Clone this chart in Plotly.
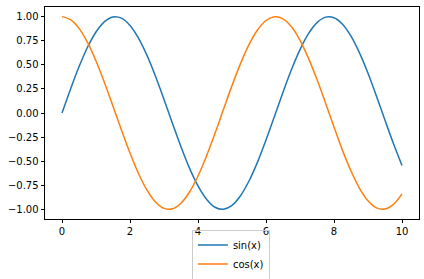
import plotly.graph_objects as go

x_vals = [0.0, 0.25, 0.5, 0.75, 1.0, 1.25, 1.5, 1.75, 2.0, 2.25, 2.5, 2.75, 3.0, 3.25, 3.5, 3.75,
          4.0, 4.25, 4.5, 4.75, 5.0, 5.25, 5.5, 5.75, 6.0, 6.25, 6.5, 6.75, 7.0, 7.25, 7.5, 7.75,
          8.0, 8.25, 8.5, 8.75, 9.0, 9.25, 9.5, 9.75, 10.0]
sin_vals = [0.000, 0.247, 0.479, 0.682, 0.841, 0.949, 0.997, 0.984, 0.909, 0.778, 0.598, 0.382,
            0.141, -0.108, -0.351, -0.572, -0.757, -0.895, -0.978, -0.999, -0.959, -0.859,
            -0.706, -0.510, -0.279, -0.033, 0.215, 0.451, 0.657, 0.823, 0.938, 0.995, 0.989,
            0.922, 0.798, 0.624, 0.412, 0.174, -0.075, -0.319, -0.544]
cos_vals = [1.000, 0.969, 0.878, 0.732, 0.540, 0.315, 0.071, -0.178, -0.416, -0.628, -0.801,
            -0.924, -0.990, -0.994, -0.936, -0.820, -0.654, -0.446, -0.211, 0.038, 0.284, 0.512,
            0.709, 0.861, 0.960, 0.999, 0.977, 0.894, 0.754, 0.567, 0.347, 0.105, -0.146,
            -0.388, -0.602, -0.781, -0.911, -0.985, -0.997, -0.948, -0.839]
series_names = ["sin(x)", "cos(x)"]
x_ticks = [0, 2, 4, 6, 8, 10]
y_ticks = [-1.0, -0.75, -0.5, -0.25, 0.0, 0.25, 0.5, 0.75, 1.0]

fig = go.Figure()
fig.add_trace(go.Scatter(x=x_vals, y=sin_vals, mode="lines", name=series_names[0],
                         line=dict(color="#1f77b4", width=1.5, shape="spline", smoothing=1.0)))
fig.add_trace(go.Scatter(x=x_vals, y=cos_vals, mode="lines", name=series_names[1],
                         line=dict(color="#ff7f0e", width=1.5, shape="spline", smoothing=1.0)))

axis_common = dict(showgrid=False, zeroline=False, showline=True, linecolor="black",
                   linewidth=0.8, mirror=True, ticks="outside", ticklen=3.5, tickwidth=0.8,
                   tickcolor="black", tickfont=dict(family="DejaVu Sans", size=10, color="black"))
fig.update_xaxes(range=[-0.5, 10.5], tickvals=x_ticks, **axis_common)
fig.update_yaxes(range=[-1.1, 1.1], tickvals=y_ticks, tickformat=".2f", **axis_common)

fig.update_layout(
    width=424, height=279,
    margin=dict(l=45, r=5, t=7, b=60, autoexpand=False),
    plot_bgcolor="white", paper_bgcolor="white",
    font=dict(family="DejaVu Sans", size=10, color="black"),
    showlegend=True,
    legend=dict(x=0.497, y=-0.05, xanchor="center", yanchor="top",
                bordercolor="#cccccc", borderwidth=1, bgcolor="rgba(255,255,255,0)",
                itemwidth=30, tracegroupgap=0,
                font=dict(family="DejaVu Sans", size=10, color="black")),
)
fig.write_html("out.html")
